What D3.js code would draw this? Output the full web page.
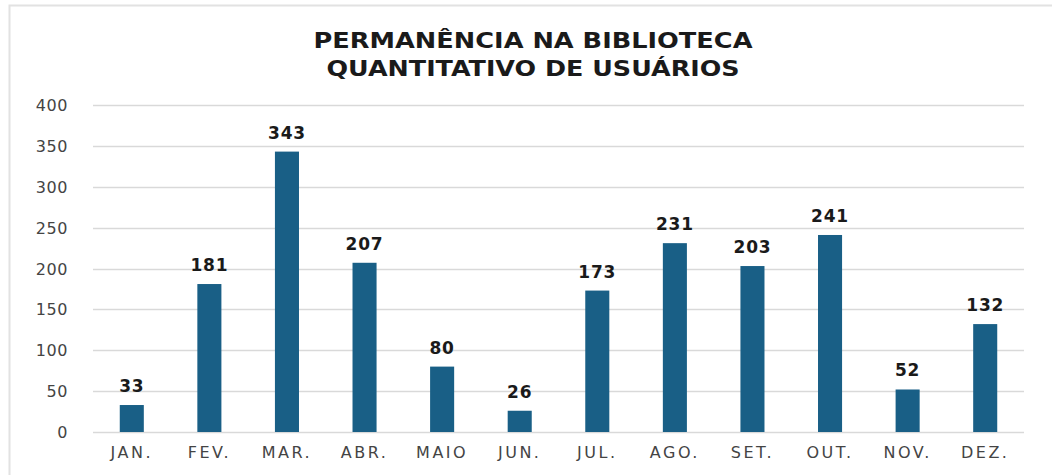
<!DOCTYPE html>
<html>
<head>
<meta charset="utf-8">
<script src="https://cdn.jsdelivr.net/npm/d3@7"></script>
<style>
  body { margin: 0; background: #fff; }
</style>
</head>
<body>
<div class="chart"></div>
<script>
(function () {

	var months = ["JAN.", "FEV.", "MAR.", "ABR.", "MAIO", "JUN.", "JUL.", "AGO.", "SET.", "OUT.", "NOV.", "DEZ."];
	var users = [33, 181, 343, 207, 80, 26, 173, 231, 203, 241, 52, 132];
	var yTicks = [0, 50, 100, 150, 200, 250, 300, 350, 400];
	var titleLines = ["PERMANÊNCIA NA BIBLIOTECA", "QUANTITATIVO DE USUÁRIOS"];

	var width = 1052, height = 475;
	var margin = {top: 105, left: 93, right: 28, bottom: 43};
	var font = "'DejaVu Sans', sans-serif";

	var svg = d3.select(".chart")
		.append("svg")
		.attr("width", width)
		.attr("height", height);

	// faint frame like the screenshot
	svg.append("rect")
		.attr("x", 9.5).attr("y", 5.5)
		.attr("width", width + 20).attr("height", height + 20)
		.attr("fill", "none")
		.attr("stroke", "#e2e2e2")
		.attr("stroke-width", 2);

	var x = d3.scaleBand()
		.domain(months)
		.range([margin.left, width - margin.right])
		.paddingInner(0.69)
		.paddingOuter(0.345);

	var y = d3.scaleLinear()
		.domain([0, 400])
		.range([height - margin.bottom, margin.top]);

	// gridlines
	svg.append("g")
		.selectAll("line")
		.data(yTicks)
		.enter().append("line")
		.attr("x1", margin.left)
		.attr("x2", width - margin.right)
		.attr("y1", function(d) { return Math.round(y(d)) + 0.5; })
		.attr("y2", function(d) { return Math.round(y(d)) + 0.5; })
		.attr("stroke", "#d9d9d9")
		.attr("stroke-width", 1.5);

	// y labels
	var yAxis = svg.append("g")
		.attr("transform", "translate(" + (margin.left - 25) + ",0)")
		.call(d3.axisLeft(y).tickValues(yTicks).tickSize(0).tickPadding(0));
	yAxis.select(".domain").remove();
	yAxis.selectAll("text")
		.attr("dy", "0.35em")
		.style("font-family", font)
		.style("font-size", "16px")
		.style("letter-spacing", "0.6px")
		.style("fill", "#444");

	// x labels
	var xAxis = svg.append("g")
		.attr("transform", "translate(0," + y(0) + ")")
		.call(d3.axisBottom(x).tickSize(0).tickPadding(15));
	xAxis.select(".domain").remove();
	xAxis.selectAll("text")
		.style("font-family", font)
		.style("font-size", "16px")
		.style("letter-spacing", "2.5px")
		.style("fill", "#444");

	var bar = svg.selectAll(".bar")
		.data(users)
		.enter().append("g")
		.attr("class", "bar");

	bar.append("rect")
		.attr("x", function(d, i) { return x(months[i]); })
		.attr("y", function(d) { return y(d); })
		.attr("width", x.bandwidth())
		.attr("height", function(d) { return y(0) - y(d); })
		.attr("fill", "#195f86");

	bar.append("text")
		.attr("x", function(d, i) { return x(months[i]) + x.bandwidth() / 2; })
		.attr("y", function(d) { return y(d) - 13; })
		.attr("text-anchor", "middle")
		.style("font-family", font)
		.style("font-size", "17px")
		.style("font-weight", "bold")
		.style("letter-spacing", "0.8px")
		.style("fill", "#1a1a1a")
		.text(function(d) { return d; });

	var titleWidths = [439, 413];
	svg.append("g")
		.selectAll("text")
		.data(titleLines)
		.enter().append("text")
		.attr("x", 533)
		.attr("y", function(d, i) { return 48 + i * 28; })
		.attr("text-anchor", "middle")
		.attr("textLength", function(d, i) { return titleWidths[i]; })
		.attr("lengthAdjust", "spacingAndGlyphs")
		.style("font-family", font)
		.style("font-weight", "bold")
		.style("font-size", "21px")
		.style("fill", "#1a1a1a")
		.text(function(d) { return d; });

})();
</script>
</body>
</html>
